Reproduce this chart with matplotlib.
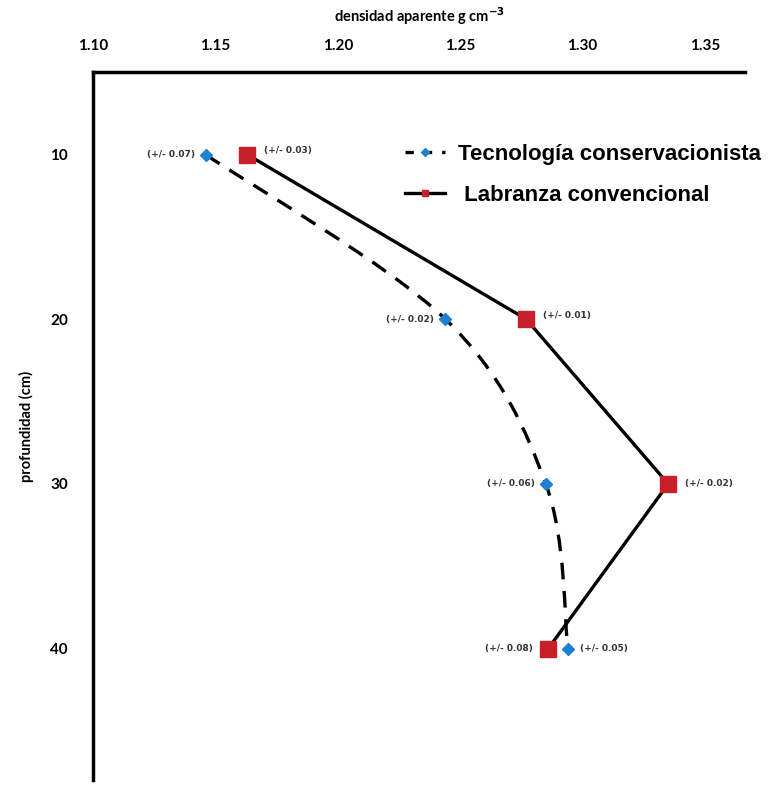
import numpy as np
import matplotlib
matplotlib.use("Agg")
import matplotlib.pyplot as plt
from matplotlib.path import Path
from matplotlib.patches import PathPatch
from matplotlib.lines import Line2D

# Datos
profundidad = [10, 20, 30, 40]
dens_conservacion = [1.146, 1.244, 1.285, 1.294]
dens_convencional = [1.163, 1.277, 1.335, 1.286]
err_conservacion = ["(+/- 0.07)", "(+/- 0.02)", "(+/- 0.06)", "(+/- 0.05)"]
err_convencional = ["(+/- 0.03)", "(+/- 0.01)", "(+/- 0.02)", "(+/- 0.08)"]
xticks = [1.10, 1.15, 1.20, 1.25, 1.30, 1.35]
yticks = [10, 20, 30, 40]

rojo = "#c8202a"
azul = "#1f7fd0"


def ruta_suave(xs, ys, t=1 / 6):
    # curva suavizada tipo Excel (Catmull-Rom -> Bezier)
    pts = np.column_stack([xs, ys]).astype(float)
    n = len(pts)
    verts = [pts[0]]
    codes = [Path.MOVETO]
    for i in range(n - 1):
        p0 = pts[i - 1] if i > 0 else pts[i]
        p1 = pts[i]
        p2 = pts[i + 1]
        p3 = pts[i + 2] if i + 2 < n else pts[i + 1]
        c1 = p1 + (p2 - p0) * t
        c2 = p2 - (p3 - p1) * t
        verts += [c1, c2, p2]
        codes += [Path.CURVE4] * 3
    return Path(verts, codes)


fig = plt.figure(figsize=(7.82, 7.85), dpi=100)
ax = fig.add_axes([0.119, 0.006, 0.834, 0.902])

# línea discontinua suavizada (tecnología conservacionista)
ax.add_patch(PathPatch(ruta_suave(dens_conservacion, profundidad), fill=False,
                       edgecolor="black", linewidth=2.4,
                       linestyle=(0, (5, 3.5)), zorder=2))
ax.plot(dens_conservacion, profundidad, linestyle="none", marker="D",
        markersize=6, markerfacecolor=azul, markeredgecolor=azul, zorder=3)
ax.plot(dens_convencional, profundidad, linestyle="-", color="black",
        linewidth=2.4, marker="s", markersize=11, markerfacecolor=rojo,
        markeredgecolor=rojo, zorder=3)

# Etiquetas de error
fs = 6.5
col = "#333333"
for i, (x, y, t) in enumerate(zip(dens_conservacion, profundidad, err_conservacion)):
    if i == 3:
        ax.annotate(t, (x, y), xytext=(9, 0), textcoords="offset points",
                    ha="left", va="center", fontsize=fs, fontweight="bold", color=col)
    else:
        ax.annotate(t, (x, y), xytext=(-8, 0), textcoords="offset points",
                    ha="right", va="center", fontsize=fs, fontweight="bold", color=col)
for i, (x, y, t) in enumerate(zip(dens_convencional, profundidad, err_convencional)):
    if i == 3:
        ax.annotate(t, (x, y), xytext=(-11, 0), textcoords="offset points",
                    ha="right", va="center", fontsize=fs, fontweight="bold", color=col)
    elif i == 2:
        ax.annotate(t, (x, y), xytext=(12, 0), textcoords="offset points",
                    ha="left", va="center", fontsize=fs, fontweight="bold", color=col)
    else:
        ax.annotate(t, (x, y), xytext=(12, 3), textcoords="offset points",
                    ha="left", va="center", fontsize=fs, fontweight="bold", color=col)

ax.set_xlim(1.10, 1.3665)
ax.set_ylim(48, 5)
ax.xaxis.tick_top()
ax.xaxis.set_label_position("top")
ax.set_xticks(xticks)
ax.set_xticklabels([f"{v:.2f}" for v in xticks])
ax.set_yticks(yticks)
ax.tick_params(axis="both", length=0, labelsize=11)
ax.tick_params(axis="x", pad=14)
ax.tick_params(axis="y", pad=18)
for lab in ax.get_xticklabels() + ax.get_yticklabels():
    lab.set_fontweight("bold")
    lab.set_family("Lato")

ax.spines["right"].set_visible(False)
ax.spines["bottom"].set_visible(False)
ax.spines["top"].set_linewidth(2.5)
ax.spines["left"].set_linewidth(2.5)

ax.set_xlabel("densidad aparente g cm$^{\\mathbf{-3}}$", fontsize=10.5,
              fontweight="bold", family="Lato", labelpad=12)
ax.set_ylabel("profundidad (cm)", fontsize=10.5, fontweight="bold",
              family="Lato", labelpad=12)

# Leyenda
h1 = Line2D([], [], color="black", linewidth=2.4, linestyle=(0, (2.5, 3)),
            marker="D", markersize=4, markerfacecolor=azul, markeredgecolor=azul)
h2 = Line2D([], [], color="black", linewidth=2.4, linestyle="-",
            marker="s", markersize=5, markerfacecolor=rojo, markeredgecolor=rojo)
ax.legend([h1, h2], ["Tecnología conservacionista", " Labranza convencional"],
          loc="upper left", bbox_to_anchor=(0.447, 0.927),
          frameon=False, handlelength=1.8, handletextpad=0.6,
          labelspacing=0.9,
          prop={"family": "Liberation Sans", "weight": "bold", "size": 16})

fig.savefig("out.png", dpi=100)
